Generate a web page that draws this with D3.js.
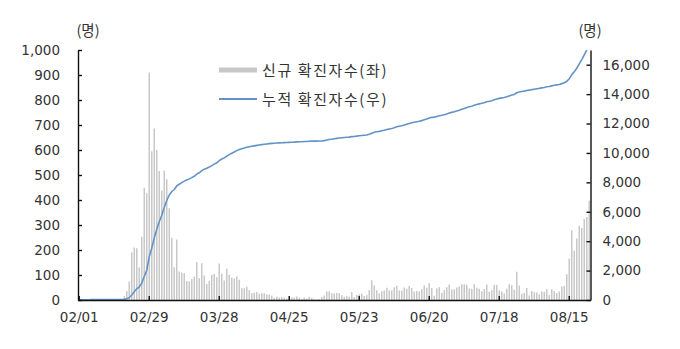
<!DOCTYPE html>
<html>
<head>
<meta charset="utf-8">
<script src="https://cdn.jsdelivr.net/npm/d3@7"></script>
<style>
  body { margin: 0; background: #fff; }
  text { font-family: "DejaVu Sans", "Liberation Sans", sans-serif; fill: #333; }
  .kr { font-family: "Noto Sans CJK KR", sans-serif; }
</style>
</head>
<body>
<svg id="chart" width="680" height="349"></svg>
<script>
// daily new confirmed cases (0시 기준), 2020-02-01 .. 2020-08-23
var febNew = [1,3,0,1,2,5,1,0,3,0,1,0,0,0,0,1,1,1,15,36,74,190,210,207,130,253,449,427,909];
var marNew = [595,686,600,516,438,518,483,367,248,131,242,114,110,107,76,74,84,93,152,87,147,98,64,76,100,104,91,146,105,78,125];
var aprNew = [101,89,86,94,81,47,47,53,39,27,30,32,25,27,27,22,22,18,8,13,9,11,8,6,10,10,10,14,9,4];
var mayNew = [9,6,13,8,3,2,4,12,18,34,35,27,26,29,27,19,13,15,13,32,12,20,23,25,16,19,40,79,58,39,27];
var junNew = [35,38,49,39,39,51,57,38,38,50,45,56,48,34,36,34,43,59,49,67,48,17,46,51,28,39,51,62,42,43];
var julNew = [50,54,63,63,61,46,44,63,49,45,35,44,62,33,39,61,60,39,34,26,45,63,59,41,113,58,25,28,48,18,36];
var augNew = [31,30,23,34,33,43,20,43,36,28,34,54,56,103,166,279,197,246,297,288,324,332,397];

// confirmed total as of 01/31
var casesBefore = 11;

var tickDays = [0, 28, 56, 84, 112, 140, 168, 196];
var tickLabels = ["02/01","02/29","03/28","04/25","05/23","06/20","07/18","08/15"];
var leftTicks = [0,100,200,300,400,500,600,700,800,900,1000];
var rightTicks = [0,2000,4000,6000,8000,10000,12000,14000,16000];

var daily = [].concat(febNew, marNew, aprNew, mayNew, junNew, julNew, augNew);
var cumul = Array.from(d3.cumsum(daily), function(v){ return v + casesBefore; });

// plot box (note: "top" is reserved on window, so use other names)
var pLeft = 78, pRight = 590.5, pTop = 50, pBottom = 300;

var svg = d3.select("#chart");

var x = d3.scaleBand()
  .domain(d3.range(daily.length))
  .range([pLeft, pRight])
  .paddingInner(0.4)
  .paddingOuter(0.2);
var yL = d3.scaleLinear().domain([0, 1000]).range([pBottom, pTop]);
var yR = d3.scaleLinear().domain([0, 17000]).range([pBottom, pTop]);

svg.append("defs").append("clipPath").attr("id", "plot")
  .append("rect").attr("x", pLeft).attr("y", pTop)
  .attr("width", pRight - pLeft + 1).attr("height", pBottom - pTop);

// bars
svg.append("g").selectAll("rect")
  .data(daily)
  .enter()
  .append("rect")
  .attr("x", function(d, i){ return x(i); })
  .attr("width", x.bandwidth())
  .attr("y", function(d){ return yL(d); })
  .attr("height", function(d){ return pBottom - yL(d); })
  .attr("fill", "#c8c8c8");

// cumulative line
var line = d3.line()
  .x(function(d, i){ return x(i) + x.bandwidth() / 2; })
  .y(function(d){ return yR(d); });

svg.append("path")
  .datum(cumul)
  .attr("clip-path", "url(#plot)")
  .attr("fill", "none")
  .attr("stroke", "#6393c6")
  .attr("stroke-width", 1.6)
  .attr("d", line);

// axes
var gL = svg.append("g").attr("transform", "translate(" + pLeft + ",0)")
  .call(d3.axisLeft(yL).tickValues(leftTicks).tickFormat(d3.format(","))
    .tickSizeInner(-4).tickSizeOuter(0).tickPadding(18));
var gR = svg.append("g").attr("transform", "translate(" + pRight + ",0)")
  .call(d3.axisRight(yR).tickValues(rightTicks).tickFormat(d3.format(","))
    .tickSizeInner(-4).tickSizeOuter(0).tickPadding(12));

var xAxis = d3.axisBottom(x).tickValues(tickDays)
  .tickFormat(function(d, i){ return tickLabels[i]; })
  .tickSizeInner(-4).tickSizeOuter(0).tickPadding(12);
var gB = svg.append("g").attr("transform", "translate(0," + pBottom + ")").call(xAxis);

[gL, gR, gB].forEach(function(g){
  g.selectAll("path.domain").attr("stroke", "#111").attr("stroke-width", 1.4);
  g.selectAll(".tick line").attr("stroke", "#111").attr("stroke-width", 1.4);
  g.selectAll("text").attr("font-size", 13.5).attr("fill", "#333")
    .attr("font-family", "DejaVu Sans, Liberation Sans, sans-serif");
});

// units
svg.append("text").attr("class", "kr").attr("x", 88).attr("y", 36)
  .attr("text-anchor", "middle").attr("font-size", 14.5).text("(명)");
svg.append("text").attr("class", "kr").attr("x", 590).attr("y", 36)
  .attr("text-anchor", "middle").attr("font-size", 14.5).text("(명)");

// legend
svg.append("rect").attr("x", 219).attr("y", 67.5).attr("width", 38).attr("height", 5)
  .attr("fill", "#c8c8c8");
svg.append("text").attr("class", "kr").attr("x", 262).attr("y", 75.5)
  .attr("font-size", 15).attr("letter-spacing", 1.6).text("신규 확진자수(좌)");
svg.append("line").attr("x1", 219).attr("x2", 257).attr("y1", 99).attr("y2", 99)
  .attr("stroke", "#6393c6").attr("stroke-width", 2);
svg.append("text").attr("class", "kr").attr("x", 262).attr("y", 104.5)
  .attr("font-size", 15).attr("letter-spacing", 1.6).text("누적 확진자수(우)");
</script>
</body>
</html>
